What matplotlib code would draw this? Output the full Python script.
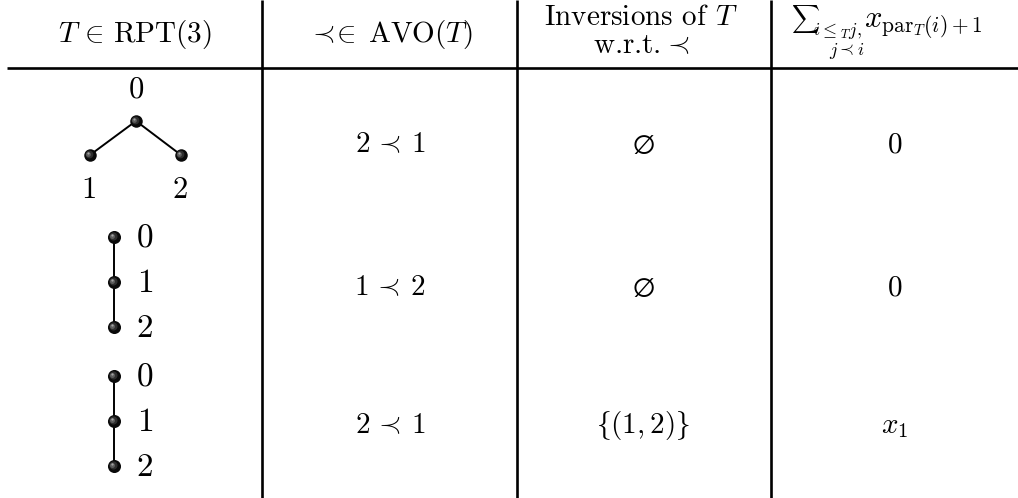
import matplotlib
matplotlib.use('Agg')
import matplotlib.pyplot as plt

plt.rcParams['mathtext.fontset'] = 'cm'
plt.rcParams['font.family'] = 'serif'
plt.rcParams['font.serif'] = ['cmr10', 'DejaVu Serif']
plt.rcParams['axes.formatter.use_mathtext'] = True

# table content
headers = [r'$T\,\in\,\mathrm{RPT}(3)$', r'$\prec\!\!\in\;\mathrm{AVO}(T)$']
header_inv = [r'Inversions of $T$', r'w.r.t. $\!\!\prec$']
avo_orders = [r'$2\,\prec\,1$', r'$1\,\prec\,2$', r'$2\,\prec\,1$']
inversions = [r'$\varnothing$', r'$\varnothing$', r'$\lbrace(1,2)\rbrace$']
sums = [r'$0$', r'$0$', r'$x_1$']

# trees as parent lists (node i -> parent), -1 for root
tree_parents = [[-1, 0, 0], [-1, 0, 1], [-1, 0, 1]]
tree_labels = ['0', '1', '2']

W, H = 1018, 498
fig = plt.figure(figsize=(W / 100, H / 100), dpi=100)
ax = fig.add_axes([0, 0, 1, 1])
ax.set_xlim(0, W)
ax.set_ylim(H, 0)
ax.axis('off')

fs = 21
fs_head = 21
col_x = [135, 390, 641, 895]
row_base = [152, 295, 433]

# grid lines
lw_grid = 1.9
for xv in [262, 517, 771]:
    ax.plot([xv, xv], [0, H], color='black', lw=lw_grid, solid_capstyle='butt')
ax.plot([7, W], [68, 68], color='black', lw=lw_grid, solid_capstyle='butt')

# headers
ax.text(col_x[0], 42, headers[0], ha='center', va='baseline', fontsize=fs_head)
ax.text(col_x[1], 42, headers[1], ha='center', va='baseline', fontsize=fs_head)
ax.text(col_x[2], 25, header_inv[0], ha='center', va='baseline', fontsize=fs_head)
ax.text(col_x[2], 53, header_inv[1], ha='center', va='baseline', fontsize=fs_head)
# sum header built from pieces (mathtext has no \nolimits / \substack)
ax.text(791, 19, r'$\sum$', ha='left', va='center', fontsize=14)
ax.text(813, 35, r'$i\leq_T j,$', ha='left', va='baseline', fontsize=13)
ax.text(847, 55, r'$j\prec i$', ha='center', va='baseline', fontsize=13)
ax.text(864, 27, r'$x_{\mathrm{par}_T(i)+1}$', ha='left', va='baseline', fontsize=22)

# body text
for r in range(3):
    ax.text(col_x[1], row_base[r], avo_orders[r], ha='center', va='baseline', fontsize=fs)
    ax.text(643, row_base[r], inversions[r], ha='center', va='baseline', fontsize=fs)
    ax.text(col_x[3], row_base[r], sums[r], ha='center', va='baseline', fontsize=fs)


def ball(x, y, d=9.0):
    # shaded sphere: dark body with a lighter spot toward the upper left
    ax.plot(x, y, 'o', ms=d, color='#0a0a0a', mec='none', zorder=5)
    ax.plot(x - 0.8, y - 0.8, 'o', ms=d * 0.62, color='#2e2e2e', mec='none', zorder=6)
    ax.plot(x - 1.5, y - 1.5, 'o', ms=d * 0.38, color='#5e5e5e', mec='none', zorder=7)
    ax.plot(x - 2.0, y - 2.0, 'o', ms=d * 0.17, color='#a5a5a5', mec='none', zorder=8)


# tree 1: root with two children
pos = {0: (136, 121), 1: (90, 155), 2: (181, 155)}
for i, p in enumerate(tree_parents[0]):
    if p >= 0:
        ax.plot([pos[p][0], pos[i][0]], [pos[p][1], pos[i][1]], color='black', lw=1.4, zorder=3)
for i in range(3):
    ball(*pos[i])
ax.text(136, 97, tree_labels[0], ha='center', va='baseline', fontsize=22)
ax.text(89, 198, tree_labels[1], ha='center', va='baseline', fontsize=22)
ax.text(180, 198, tree_labels[2], ha='center', va='baseline', fontsize=22)

# trees 2 and 3: chains
for t, top in [(1, 237), (2, 376)]:
    pos = {i: (114, top + 45 * i) for i in range(3)}
    for i, p in enumerate(tree_parents[t]):
        if p >= 0:
            ax.plot([pos[p][0], pos[i][0]], [pos[p][1], pos[i][1]], color='black', lw=1.4, zorder=3)
    for i in range(3):
        ball(*pos[i], d=9.4)
        ax.text(145, pos[i][1] + 10, tree_labels[i], ha='center', va='baseline', fontsize=24)

fig.savefig('out.png', dpi=100)
